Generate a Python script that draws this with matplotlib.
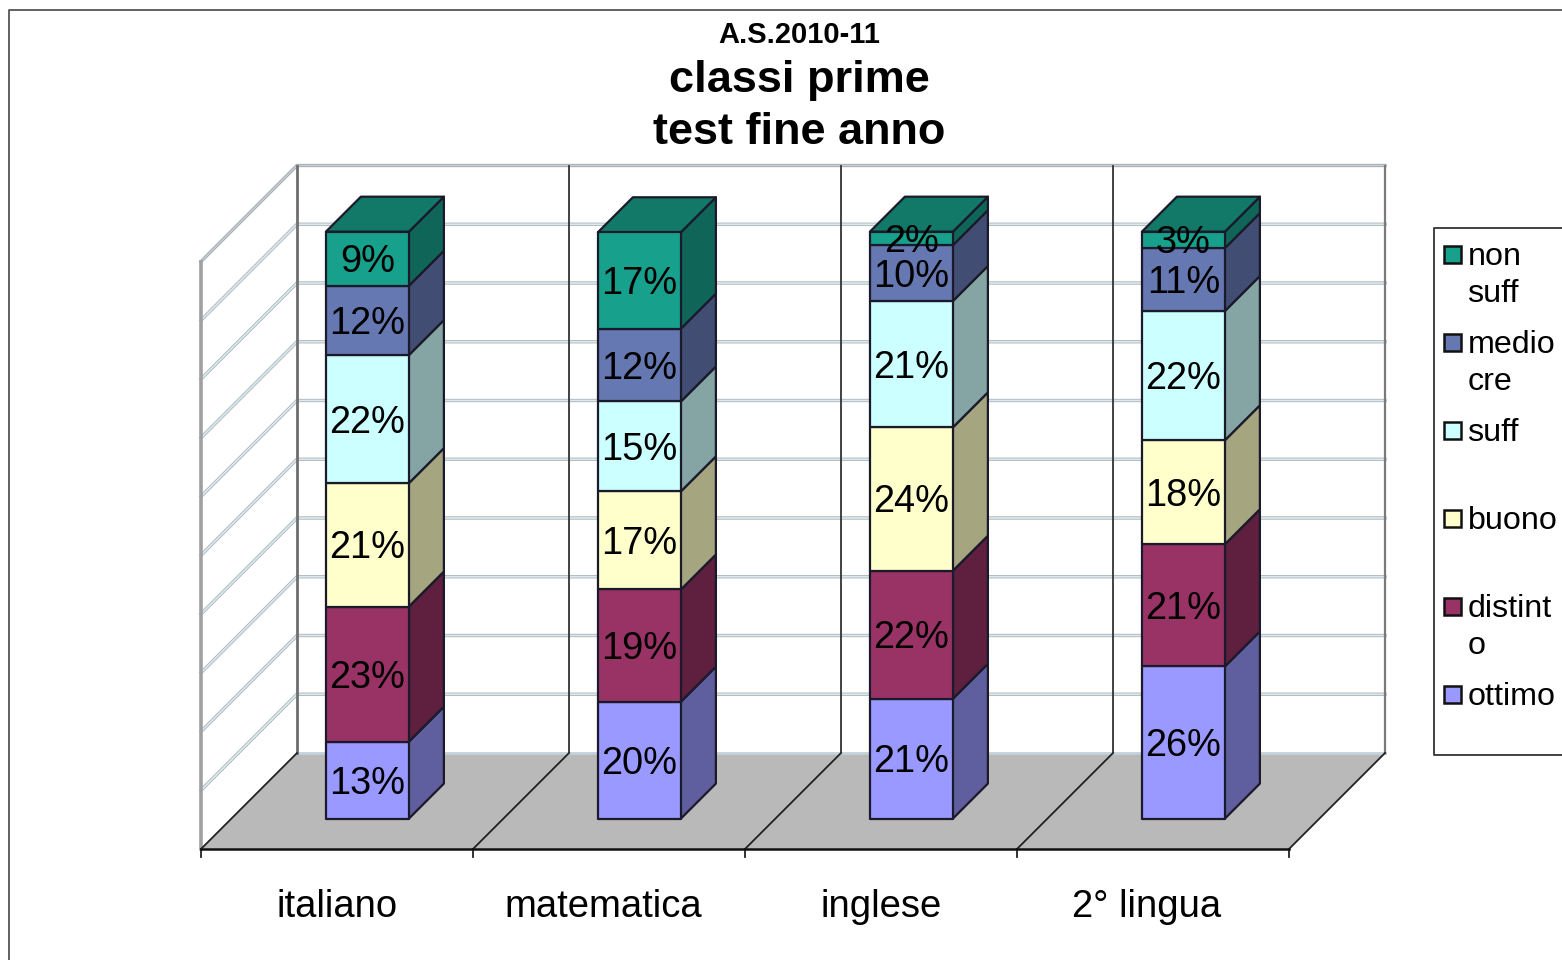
import matplotlib
matplotlib.use("Agg")
import matplotlib.pyplot as plt
from matplotlib.patches import Polygon, Rectangle

plt.rcParams['font.family'] = ['Liberation Sans', 'DejaVu Sans']

categories = ["italiano", "matematica", "inglese", "2° lingua"]
label_nudge_px = [0, -6, 0, -6]
series_names = ["ottimo", "distinto", "buono", "suff", "mediocre", "non suff"]
legend_lines = [["non", "suff"], ["medio", "cre"], ["suff"], ["buono"], ["distint", "o"], ["ottimo"]]

ottimo = [13.1, 19.9, 20.4, 25.9]
distinto = [23.0, 19.1, 21.8, 20.8]
buono = [21.0, 16.7, 24.4, 17.7]
suff = [21.8, 15.3, 21.5, 22.0]
mediocre = [11.8, 12.4, 9.5, 10.7]
non_suff = [9.2, 16.4, 2.3, 2.8]
values = [ottimo, distinto, buono, suff, mediocre, non_suff]

text_ottimo = ["13%", "20%", "21%", "26%"]
text_distinto = ["23%", "19%", "22%", "21%"]
text_buono = ["21%", "17%", "24%", "18%"]
text_suff = ["22%", "15%", "21%", "22%"]
text_mediocre = ["12%", "12%", "10%", "11%"]
text_non_suff = ["9%", "17%", "2%", "3%"]
texts = [text_ottimo, text_distinto, text_buono, text_suff, text_mediocre, text_non_suff]

front_colors = ["#9999FF", "#993366", "#FFFFCC", "#CCFFFF", "#6678B1", "#17A08C"]
side_colors = ["#5F5F9F", "#5F1F3F", "#A5A57F", "#85A5A5", "#414D73", "#0E6558"]
top_color = "#127868"

W, H = 1562, 960
PX_CAT, PX_PCT = 272.0, 5.875
X0, Y0 = 337.0, 849.0      # pixel of category 0, value 0, depth 0
WALL_D, BAR_D0, BAR_D1 = 96.0, 30.4, 65.4
BAR_W = 83.0 / PX_CAT
BAR_DROP = 0.6 / PX_PCT    # keeps the bar foot on the floor pixel row
TEXT_DROP = 3.5 / PX_PCT

fig = plt.figure(figsize=(W / 100, H / 100), dpi=100, facecolor="white")
ax = fig.add_axes([0, 0, 1, 1])
ax.set_xlim(-X0 / PX_CAT, (W - X0) / PX_CAT)
ax.set_ylim(-(H - Y0) / PX_PCT, Y0 / PX_PCT)
ax.axis("off")


def P(c, v, d=0.0):
    """Oblique projection: category c, value v, depth d (in pixels)."""
    return (c + d / PX_CAT, v + d / PX_PCT)


def px(x, y):
    """Pixel position (from the top left) in data coordinates."""
    return ((x - X0) / PX_CAT, (Y0 - y) / PX_PCT)


# floor
ax.add_patch(Polygon([P(-.5, 0), P(3.5, 0), P(3.5, 0, WALL_D), P(-.5, 0, WALL_D)],
                     fc="#B9B9B9", ec="none", zorder=1))
# gridlines on the walls
for v in range(0, 101, 10):
    pts = [P(-.5, v), P(-.5, v, WALL_D), P(3.5, v, WALL_D)]
    xs, ys = zip(*pts)
    if v == 100:
        ax.plot(xs, ys, color="#A8AEB2", lw=2.4, zorder=2, solid_joinstyle="miter")
        ax.plot(xs, ys, color="#C4CED4", lw=1.0, zorder=2.1, solid_joinstyle="miter")
    elif v > 0:
        ax.plot(xs, ys, color="#A9B4BA", lw=2.4, zorder=2, solid_joinstyle="miter")
        ax.plot(xs, ys, color="#DCE9EF", lw=1.2, zorder=2.1, solid_joinstyle="miter")
    else:
        ax.plot(xs[1:], ys[1:], color="#C4D2DA", lw=2.0, zorder=2)
# left wall edges
xs, ys = zip(P(-.5, 0), P(-.5, 100))
ax.plot(xs, ys, color="#A0A0A0", lw=2.6, zorder=3)
xs, ys = zip(P(-.5, 0, WALL_D), P(-.5, 100, WALL_D))
ax.plot(xs, ys, color="#6E6E6E", lw=2.0, zorder=3)
xs, ys = zip(P(3.5, 0, WALL_D), P(3.5, 100, WALL_D))
ax.plot(xs, ys, color="#7A7A7A", lw=1.6, zorder=3)
# dividers on the floor and back wall
for i in range(0, 5):
    c = i - .5
    xs, ys = zip(P(c, 0), P(c, 0, WALL_D))
    ax.plot(xs, ys, color="#222222", lw=1.3, zorder=3)
    if 0 < i < 4:
        xs, ys = zip(P(c, 0, WALL_D), P(c, 100, WALL_D))
        ax.plot(xs, ys, color="#333333", lw=1.3, zorder=3)
    # tick
    xs, ys = zip(P(c, 0), P(c, -8 / PX_PCT))
    ax.plot(xs, ys, color="#222222", lw=1.3, zorder=3)
xs, ys = zip(P(-.5, 0), P(3.5, 0))
ax.plot(xs, ys, color="#111111", lw=1.8, zorder=3)

# stacked bars
edge = "#1A1A2A"
for i in range(len(categories)):
    base = -BAR_DROP + 0.6 / PX_PCT
    total = base + sum(s[i] for s in values)
    zo = 5
    l, r = i - BAR_W / 2, i + BAR_W / 2
    for k, s in enumerate(values):
        v = s[i]
        t = base + v
        ax.add_patch(Polygon([P(r, base, BAR_D0), P(r, base, BAR_D1), P(r, t, BAR_D1), P(r, t, BAR_D0)],
                             fc=side_colors[k], ec=edge, lw=1.6, joinstyle="round", zorder=zo))
        ax.add_patch(Polygon([P(l, base, BAR_D0), P(r, base, BAR_D0), P(r, t, BAR_D0), P(l, t, BAR_D0)],
                             fc=front_colors[k], ec=edge, lw=1.6, joinstyle="round", zorder=zo + .1))
        cx, cy = P(i, base + v / 2, BAR_D0)
        ax.text(cx, cy - TEXT_DROP, texts[k][i], ha="center", va="center", fontsize=27.4, color="black", zorder=8)
        base = t
    ax.add_patch(Polygon([P(l, total, BAR_D0), P(r, total, BAR_D0), P(r, total, BAR_D1), P(l, total, BAR_D1)],
                         fc=top_color, ec=edge, lw=1.6, joinstyle="round", zorder=zo))

# category labels
for i, (name, n) in enumerate(zip(categories, label_nudge_px)):
    x, y = px(X0 + i * PX_CAT + n, 907)
    ax.text(x, y, name, ha="center", va="center", fontsize=27.5, color="black")

# title
for txt, y, fs in [("A.S.2010-11", 35, 21), ("classi prime", 80, 32.5), ("test fine anno", 132, 32.5)]:
    x, yy = px(799, y)
    ax.text(x, yy, txt, ha="center", va="center", fontsize=fs, fontweight="bold", color="black")

# outer border and legend frame
xs, ys = zip(px(9, H), px(9, 10), px(W, 10))
ax.plot(xs, ys, color="#555555", lw=1.3, zorder=4)
xs, ys = zip(px(W, 228), px(1434, 228), px(1434, 755), px(W, 755))
ax.plot(xs, ys, color="#333333", lw=1.3, zorder=4)

# legend
legend_y = [254, 342, 430, 518, 606, 694]
legend_colors = front_colors[::-1]
for y, lines, col in zip(legend_y, legend_lines, legend_colors):
    x0, y0 = px(1444.5, y + 8.5)
    w, h = 16.5 / PX_CAT, 16.5 / PX_PCT
    ax.add_patch(Rectangle((x0, y0), w, h, fc=col, ec="#111111", lw=1.8, zorder=6))
    for j, line in enumerate(lines):
        tx, ty = px(1467.5, y + 3 + 37 * j)
        ax.text(tx, ty, line, ha="left", va="center", fontsize=23.2, color="black")

fig.savefig("out.png", dpi=100, facecolor="white")
